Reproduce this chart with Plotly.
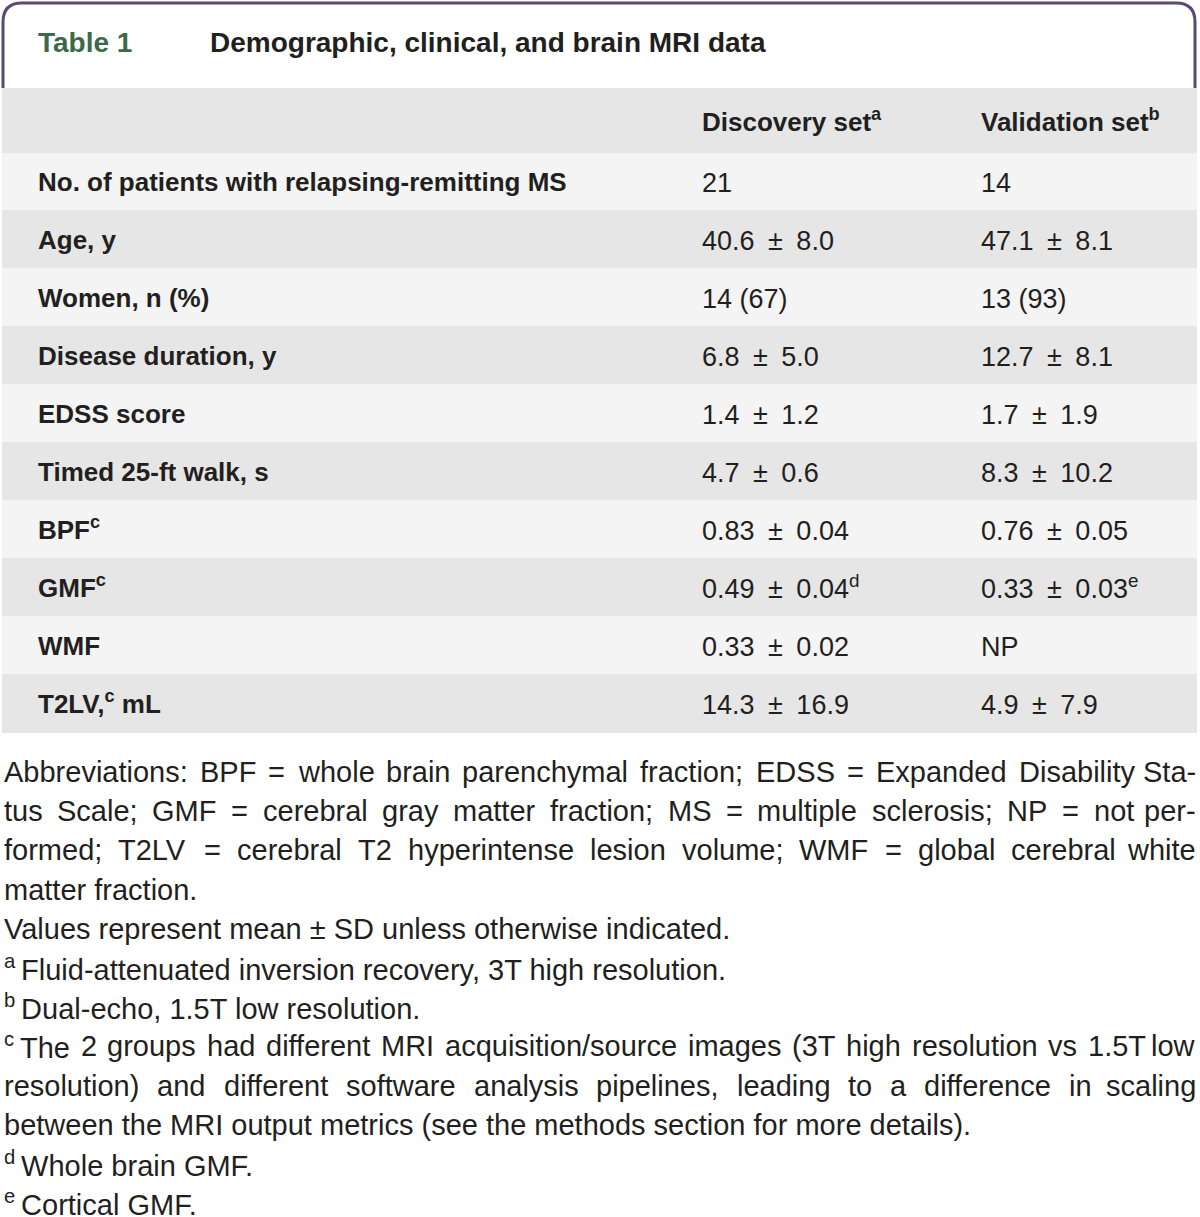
import plotly.graph_objects as go

W, H = 1200, 1217
FONT = "Liberation Sans"
TEXT = "#231f20"
GRAY = "#e6e6e6"
LIGHT = "#f4f4f4"
GREEN = "#3b6a4a"
PURPLE = "#5b4a6f"
CLEAR = "rgba(0,0,0,0)"

table_no = "Table 1"
title = "Demographic, clinical, and brain MRI data"

col_headers = ["Discovery set<sup>a</sup>", "Validation set<sup>b</sup>"]
row_labels = [
    "No. of patients with relapsing-remitting MS",
    "Age, y",
    "Women, n (%)",
    "Disease duration, y",
    "EDSS score",
    "Timed 25-ft walk, s",
    "BPF<sup>c</sup>",
    "GMF<sup>c</sup>",
    "WMF",
    "T2LV,<sup>c</sup> mL",
]
discovery = [
    "21", "40.6 ± 8.0", "14 (67)", "6.8 ± 5.0", "1.4 ± 1.2", "4.7 ± 0.6",
    "0.83 ± 0.04", "0.49 ± 0.04<sup>d</sup>", "0.33 ± 0.02", "14.3 ± 16.9",
]
validation = [
    "14", "47.1 ± 8.1", "13 (93)", "12.7 ± 8.1", "1.7 ± 1.9", "8.3 ± 10.2",
    "0.76 ± 0.05", "0.33 ± 0.03<sup>e</sup>", "NP", "4.9 ± 7.9",
]

# (text, justified)
footnotes = [
    ("Abbreviations: BPF = whole brain parenchymal fraction; EDSS = Expanded Disability Sta-", True),
    ("tus Scale; GMF = cerebral gray matter fraction; MS = multiple sclerosis; NP = not per-", True),
    ("formed; T2LV = cerebral T2 hyperintense lesion volume; WMF = global cerebral white", True),
    ("matter fraction.", False),
    ("Values represent mean ± SD unless otherwise indicated.", False),
    ("<sup>a</sup>Fluid-attenuated inversion recovery, 3T high resolution.", False),
    ("<sup>b</sup>Dual-echo, 1.5T low resolution.", False),
    ("<sup>c</sup>The 2 groups had different MRI acquisition/source images (3T high resolution vs 1.5T low", True),
    ("resolution) and different software analysis pipelines, leading to a difference in scaling", True),
    ("between the MRI output metrics (see the methods section for more details).", False),
    ("<sup>d</sup>Whole brain GMF.", False),
    ("<sup>e</sup>Cortical GMF.", False),
]

# Arial / Liberation Sans advance widths (em), used to justify lines
EM = {
    " ": .278, "a": .556, "b": .556, "c": .500, "d": .556, "e": .556, "f": .278,
    "g": .556, "h": .556, "i": .222, "j": .222, "k": .500, "l": .222, "m": .833,
    "n": .556, "o": .556, "p": .556, "q": .556, "r": .333, "s": .500, "t": .278,
    "u": .556, "v": .500, "w": .722, "x": .500, "y": .500, "z": .500,
    "A": .667, "B": .667, "C": .722, "D": .722, "E": .667, "F": .611, "G": .778,
    "H": .722, "I": .278, "J": .500, "K": .667, "L": .556, "M": .833, "N": .722,
    "O": .778, "P": .667, "Q": .778, "R": .722, "S": .667, "T": .611, "U": .722,
    "V": .667, "W": .944, "X": .667, "Y": .667, "Z": .611,
    ".": .278, ",": .278, ":": .278, ";": .278, "-": .333, "(": .333, ")": .333,
    "=": .584, "±": .584, "/": .278, "\u2009": .2,
}


def text_width(s, size):
    w, scale, i = 0.0, 1.0, 0
    while i < len(s):
        if s.startswith("<sup>", i):
            scale, i = 0.7, i + 5
            continue
        if s.startswith("</sup>", i):
            scale, i = 1.0, i + 6
            continue
        w += EM.get(s[i], .556) * size * scale
        i += 1
    return w


def px(x):
    return x / W


def py(y):
    return 1 - y / H


def even_sup(s):
    # give every cell the same raised top so plotly lines them up alike
    return s if "<sup>" in s else s + "<sup>\u00a0</sup>"


def value_text(s):
    return even_sup(s.replace(" ± ", "\u2002±\u2002"))


def note_text(s):
    # small gap after a leading footnote mark
    return s.replace("</sup>", "</sup>\u2009", 1) if s.startswith("<sup>") else s


fig = go.Figure()

n = len(row_labels)
fills = [LIGHT if i % 2 == 0 else GRAY for i in range(n)]
widths = [28, 664, 279, 223]
header_h, row_h = 64, 58
top = 88
body_top = top + header_h
bottom = body_top + n * row_h
x_dom = [px(2), px(1196)]
sizes = [26, 26, 27, 27]
no_line = dict(color=CLEAR, width=0)

# background layer (cells only)
fig.add_trace(go.Table(
    domain=dict(x=x_dom, y=[py(bottom + 1), py(top)]),
    columnwidth=widths,
    header=dict(values=[""] * 4, fill_color=GRAY, line=dict(color=GRAY, width=1),
                height=header_h),
    cells=dict(values=[[""] * n] * 4, fill_color=[fills] * 4,
               line=dict(color=[fills] * 4, width=1), height=row_h),
))

# header text layer
HEAD_SHIFT = 8
fig.add_trace(go.Table(
    domain=dict(x=x_dom, y=[py(body_top + HEAD_SHIFT), py(top + HEAD_SHIFT)]),
    columnwidth=widths,
    header=dict(
        values=["", ""] + ["<b>%s</b>" % h for h in col_headers],
        fill_color=CLEAR, line=no_line,
        align="left", height=header_h,
        font=dict(family=FONT, size=26, color=TEXT),
    ),
    cells=dict(values=[], fill_color=CLEAR, line=no_line),
))

# body text layer; its (empty) header is a spacer of known height
BODY_SHIFT = 4
SPACER = 20
fig.add_trace(go.Table(
    domain=dict(x=x_dom, y=[py(bottom + 1 + BODY_SHIFT),
                            py(body_top + BODY_SHIFT - SPACER)]),
    columnwidth=widths,
    header=dict(values=[""] * 4, fill_color=CLEAR, line=no_line, height=SPACER,
                font=dict(family=FONT, size=2, color=CLEAR)),
    cells=dict(
        values=[
            [""] * n,
            [even_sup("<b>%s</b>" % r) for r in row_labels],
            [value_text(v) for v in discovery],
            [value_text(v) for v in validation],
        ],
        fill_color=CLEAR, line=no_line,
        align="left", height=row_h,
        font=dict(family=FONT, size=sizes, color=TEXT),
    ),
))

# rounded top frame
frame = "M {},{} L {},{} Q {},{} {},{} L {},{} Q {},{} {},{} L {},{}".format(
    px(3), py(88), px(3), py(22), px(3), py(3), px(22), py(3),
    px(1176), py(3), px(1195), py(3), px(1195), py(22), px(1195), py(88),
)
fig.add_shape(type="path", path=frame, xref="paper", yref="paper",
              line=dict(color=PURPLE, width=3))

fig.add_annotation(x=px(36), y=py(42), xref="paper", yref="paper",
                   text="<b>%s</b>" % table_no, showarrow=False,
                   xanchor="left", yanchor="middle",
                   font=dict(family=FONT, size=28, color=GREEN))
fig.add_annotation(x=px(208), y=py(42), xref="paper", yref="paper",
                   text="<b>%s</b>" % title, showarrow=False,
                   xanchor="left", yanchor="middle",
                   font=dict(family=FONT, size=28, color=TEXT))

FN_SIZE = 29
left, right = 2, 1198
for k, (line, justified) in enumerate(footnotes):
    line = note_text(line)
    yc = py(772 + k * 39.2)
    font = dict(family=FONT, size=FN_SIZE, color=TEXT)
    if not justified:
        fig.add_annotation(x=px(left), y=yc, xref="paper", yref="paper", text=line,
                           showarrow=False, xanchor="left", yanchor="middle", font=font)
        continue
    words = line.split(" ")
    ws = [text_width(w, FN_SIZE) for w in words]
    gap = (right - left - sum(ws)) / (len(words) - 1)
    x = left
    for j, word in enumerate(words):
        last = j == len(words) - 1
        fig.add_annotation(x=px(right if last else x), y=yc, xref="paper", yref="paper",
                           text=word, showarrow=False,
                           xanchor="right" if last else "left", yanchor="middle",
                           font=font)
        x += ws[j] + gap

fig.update_layout(
    width=W,
    height=H,
    margin=dict(l=0, r=0, t=0, b=0),
    paper_bgcolor="white",
    plot_bgcolor="white",
    showlegend=False,
)

fig.write_html("out.html", config={"displayModeBar": False},
               post_script="document.body.style.margin='0px';")
